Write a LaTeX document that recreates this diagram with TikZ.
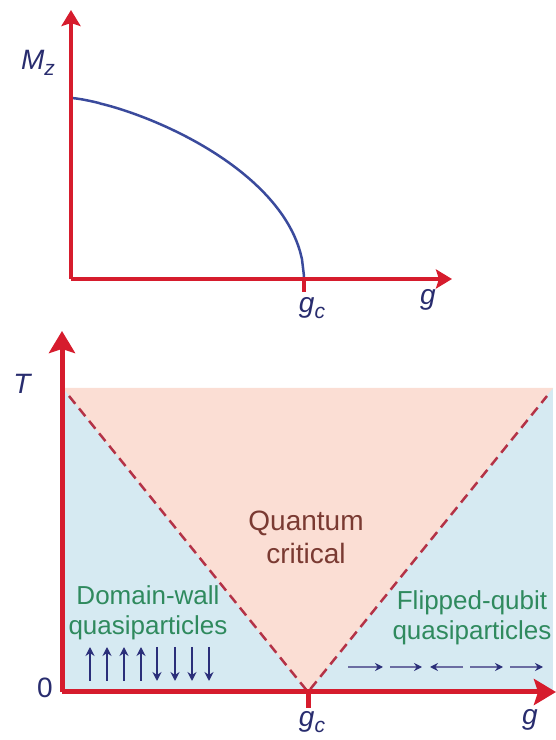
\documentclass[tikz,border=0pt]{standalone}
\usepackage{fontspec}
\setmainfont{Liberation Sans}
\usepackage{xcolor}
\definecolor{axred}{RGB}{214,28,45}
\definecolor{cblue}{RGB}{58,74,156}
\definecolor{lb}{RGB}{214,234,242}
\definecolor{lp}{RGB}{251,222,212}
\definecolor{dred}{RGB}{180,50,70}
\definecolor{qbrown}{RGB}{122,58,50}
\definecolor{qgreen}{RGB}{47,138,94}
\definecolor{snavy}{RGB}{43,47,122}
\definecolor{lnavy}{RGB}{40,44,110}
\usetikzlibrary{arrows.meta}
\newcommand{\lowsub}[1]{\raisebox{-0.22em}{\fontsize{21}{21}\selectfont #1}}

\begin{document}
\begin{tikzpicture}[x=1pt,y=1pt,
  axtop/.style={axred,line width=3.5pt,-{Stealth[length=16pt,width=19pt,inset=3pt]}},
  axbot/.style={axred,line width=5pt,-{Stealth[length=22pt,width=26pt,inset=4pt]}},
  axlab/.style={lnavy,font=\fontsize{28}{30}\selectfont\itshape},
  phase/.style={qgreen,align=center,font=\fontsize{26}{30}\selectfont},
  spin/.style={snavy,line width=2.2pt,-{Stealth[length=9pt,width=9pt]}},
  flip/.style={snavy!70,line width=1.3pt,-{Stealth[length=8pt,width=8pt,color=snavy]}}]
  \useasboundingbox (0,0) rectangle (556,740);

  % top panel: order parameter vs g
  \coordinate (O1) at (71,461);
  \coordinate (Mtop) at (71,730);
  \coordinate (Gend1) at (452,461);
  \coordinate (gc1) at (304,461);
  \draw[cblue,line width=2.5pt,domain=0.001:0.9999,samples=120]
    plot ({71+233*\x},{461+181*sqrt(abs(1-\x^1.37))}) -- (gc1);
  \draw[axtop] (O1) -- (Mtop);
  \draw[axtop] (O1) -- (Gend1);
  \draw[axred,line width=3.5pt] (gc1) -- ++(0,-13);
  \node[axlab] (mz) at (38,677) {M\lowsub{z}};
  \node[axlab] (gctop) at (312,432) {g\lowsub{c}};
  \node[axlab] (gtop) at (428,440) {g};

  % bottom panel: finite temperature phase diagram
  \coordinate (O2) at (62,48);
  \coordinate (Ttop) at (62,409);
  \coordinate (Gend2) at (556,48);
  \coordinate (gc2) at (308,48);
  \fill[lb] (62,48) rectangle (553,352);
  \fill[lp] (63,352) -- (553,352) -- (gc2) -- cycle;
  \draw[dred,line width=2.5pt,dash pattern=on 10pt off 6pt] (69,344) -- (gc2) -- (547,344);
  \draw[axbot] (O2) -- (Ttop);
  \draw[axbot] (O2) -- (Gend2);
  \draw[axred,line width=5pt] (gc2) -- ++(0,-16);
  \node[axlab] (tlab) at (22,356) {T};
  \node[axlab,font=\fontsize{28}{30}\selectfont] (zero) at (45,52) {0};
  \node[axlab] (gcbot) at (312,18) {g\lowsub{c}};
  \node[axlab] (gbot) at (530,20) {g};

  \node[qbrown,align=center,font=\fontsize{28}{33}\selectfont] (qc) at (306,203) {Quantum\\critical};
  \node[phase] (dw) at (148,127) {Domain-wall\\quasiparticles};
  \node[phase] (fq) at (472,122) {Flipped-qubit\\quasiparticles};

  % spins
  \foreach \x in {90,107,124,141} \draw[spin] (\x,59) -- (\x,93);
  \foreach \x in {157,175,192,209} \draw[spin] (\x,93) -- (\x,59);
  \draw[flip] (348,73) -- (383,73);
  \draw[flip] (390,73) -- (422,73);
  \draw[flip] (463,73) -- (430,73);
  \draw[flip] (470,73) -- (503,73);
  \draw[flip] (510,73) -- (543,73);
\end{tikzpicture}
\end{document}
